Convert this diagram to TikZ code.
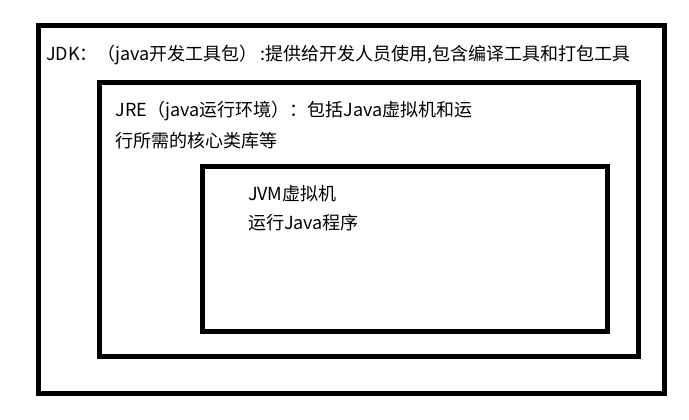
\documentclass[tikz,border=0pt]{standalone}
\usepackage{fontspec}
\setmainfont{Noto Sans CJK SC}
\begin{document}
\begin{tikzpicture}[x=1pt,y=-1pt,
  frame/.style={draw=black,line width=4.6pt,miter limit=10,rectangle,inner sep=0pt,outer sep=0pt},
  lbl/.style={anchor=base west,inner sep=0pt,outer sep=0pt,font=\fontsize{18}{20}\selectfont}]
\useasboundingbox[fill=white] (0,0) rectangle (689,420);
\node[frame,minimum width=626pt,minimum height=368pt] (jdk) at (351.75,209.7) {};
\node[frame,minimum width=539pt,minimum height=274pt] (jre) at (369.25,219.25) {};
\node[frame,minimum width=404.7pt,minimum height=164.8pt] (jvm) at (404.95,248.9) {};
\node[lbl] (t1) at (46,61) {JDK：（java开发工具包）\,:提供给开发人员使用,包含编译工具和打包工具};
\node[lbl] (t2) at (115.5,116.5) {JRE（java运行环境）：包括Java虚拟机和运};
\node[lbl] (t3) at (115.5,147.5) {行所需的核心类库等};
\node[lbl] (t4) at (248,200) {JVM虚拟机};
\node[lbl] (t5) at (248,229) {运行Java程序};
\end{tikzpicture}
\end{document}
